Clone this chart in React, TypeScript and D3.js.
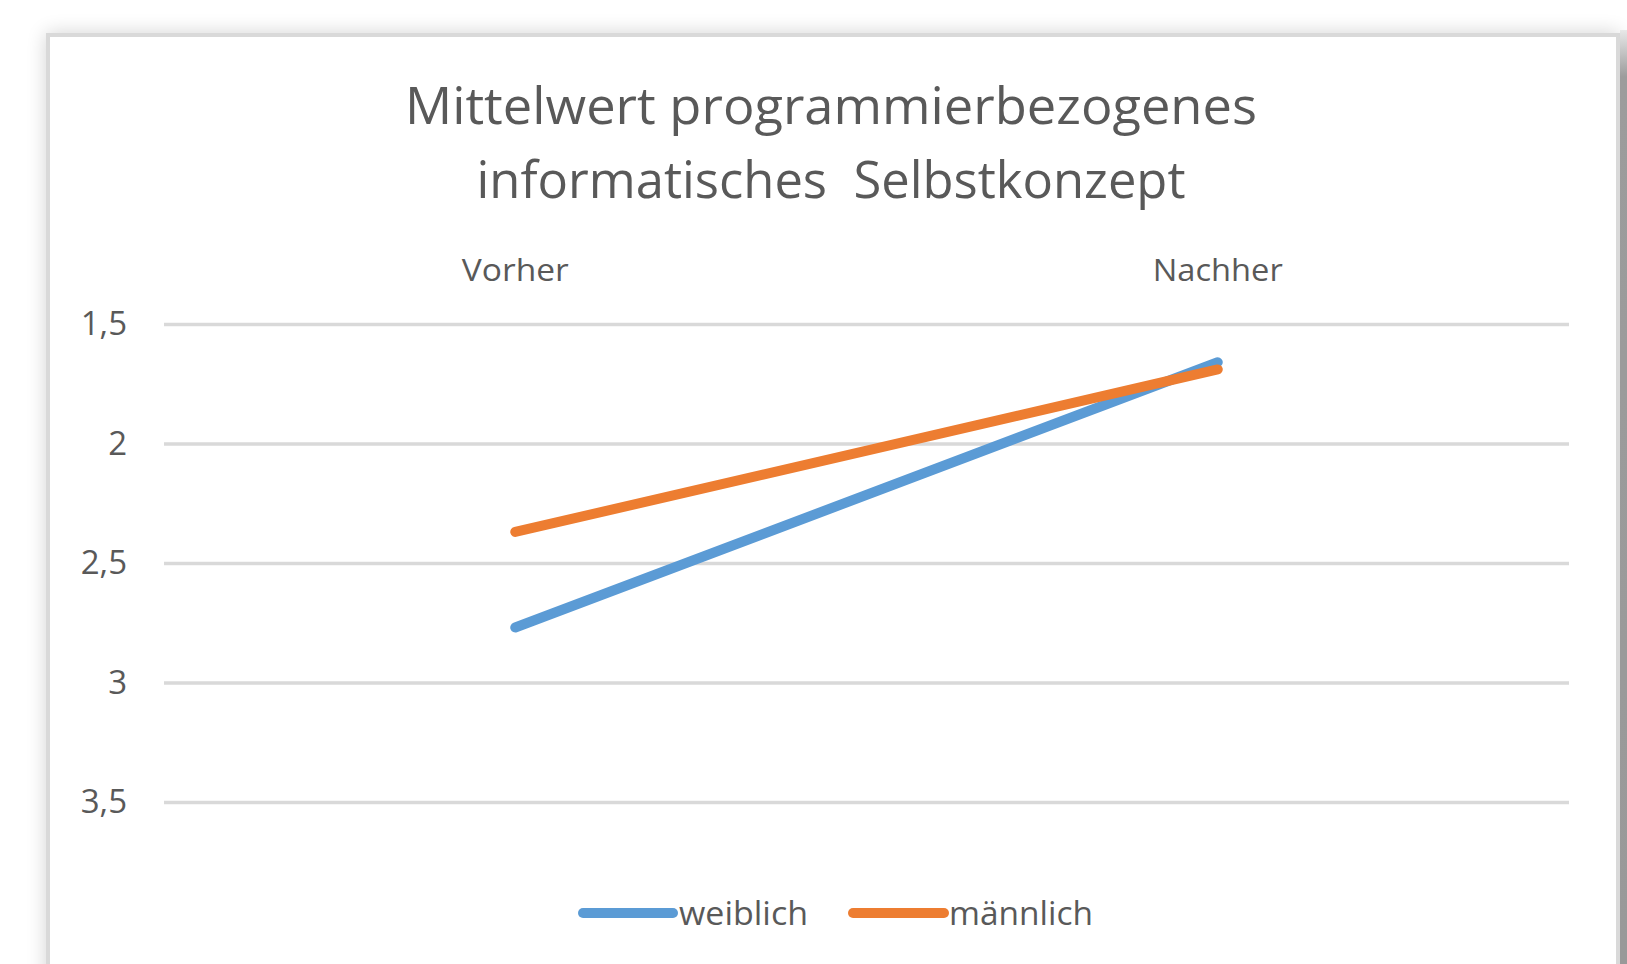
import { useEffect, useRef } from "react";
import * as d3 from "d3";

// Data
const categories = ["Vorher", "Nachher"];
const weiblich = [2.77, 1.66];
const maennlich = [2.37, 1.69];
const seriesNames = ["weiblich", "männlich"];
const seriesColors = ["#5B9BD5", "#ED7D31"];
const yTicks = [1.5, 2, 2.5, 3, 3.5];
const titleLines = ["Mittelwert programmierbezogenes", "informatisches  Selbstkonzept"];

const App = () => {
  const ref = useRef<SVGSVGElement | null>(null);

  useEffect(() => {
    if (!ref.current) return;
    document.body.style.margin = "0";

    const svg = d3.select(ref.current);
    svg.selectAll("*").remove();

    const width = 1627;
    const height = 964;
    const plot = { left: 164, right: 1569, top: 324, bottom: 802 };
    const font = "'Open Sans', 'Noto Sans', sans-serif";
    const textColor = "#595959";

    const defs = svg.append("defs");
    const f = defs
      .append("filter")
      .attr("id", "glow")
      .attr("x", "-5%")
      .attr("y", "-10%")
      .attr("width", "110%")
      .attr("height", "120%");
    f.append("feGaussianBlur").attr("in", "SourceAlpha").attr("stdDeviation", 10);
    f.append("feComponentTransfer")
      .append("feFuncA")
      .attr("type", "linear")
      .attr("slope", 0.18);
    const merge = f.append("feMerge");
    merge.append("feMergeNode");
    merge.append("feMergeNode").attr("in", "SourceGraphic");

    const grad = defs
      .append("linearGradient")
      .attr("id", "edge")
      .attr("x1", 0)
      .attr("y1", 0)
      .attr("x2", 0)
      .attr("y2", 1);
    grad.append("stop").attr("offset", "0%").attr("stop-color", "#e8e8e8");
    grad.append("stop").attr("offset", "5%").attr("stop-color", "#9c9c9c");
    grad.append("stop").attr("offset", "100%").attr("stop-color", "#999999");

    svg.append("rect").attr("width", width).attr("height", height).attr("fill", "#ffffff");

    // chart frame
    svg
      .append("rect")
      .attr("x", 48)
      .attr("y", 35)
      .attr("width", 1570)
      .attr("height", 1000)
      .attr("fill", "#ffffff")
      .attr("stroke", "#d9d9d9")
      .attr("stroke-width", 4)
      .attr("filter", "url(#glow)");
    svg
      .append("rect")
      .attr("x", 1620)
      .attr("y", 30)
      .attr("width", 7)
      .attr("height", height - 30)
      .attr("fill", "url(#edge)");

    // Scales
    const x = d3
      .scalePoint<string>()
      .domain(categories)
      .range([plot.left, plot.right])
      .padding(0.5);

    const y = d3
      .scaleLinear()
      .domain([1.5, 3.5])
      .range([plot.top, plot.bottom]);

    const fmt = d3.formatLocale({ decimal: ",", thousands: ".", grouping: [3], currency: ["", "€"] }).format("~g");

    // Y axis + grid
    svg
      .append("g")
      .attr("transform", `translate(${plot.left},0)`)
      .call(
        d3
          .axisLeft(y)
          .tickValues(yTicks)
          .tickSize(-(plot.right - plot.left))
          .tickPadding(37)
          .tickFormat((d) => fmt(d as number))
      )
      .call((g) => g.select(".domain").remove())
      .call((g) => g.selectAll(".tick line").attr("stroke", "#d9d9d9").attr("stroke-width", 3.5))
      .call((g) =>
        g
          .selectAll(".tick text")
          .attr("fill", textColor)
          .attr("dy", "0.33em")
          .style("font-family", font)
          .style("font-size", "33px")
      );

    // Category labels (top)
    const catWidths = [107, 130];
    svg
      .append("g")
      .selectAll("text")
      .data(categories)
      .join("text")
      .attr("x", (d) => x(d)!)
      .attr("y", 281)
      .attr("text-anchor", "middle")
      .attr("fill", textColor)
      .attr("textLength", (_, i) => catWidths[i])
      .attr("lengthAdjust", "spacingAndGlyphs")
      .style("font-family", font)
      .style("font-size", "31px")
      .text((d) => d);

    // Lines
    const line = d3
      .line<number>()
      .x((_, i) => x(categories[i])!)
      .y((d) => y(d));

    [weiblich, maennlich].forEach((vals, i) => {
      svg
        .append("path")
        .datum(vals)
        .attr("d", line)
        .attr("fill", "none")
        .attr("stroke", seriesColors[i])
        .attr("stroke-width", 10)
        .attr("stroke-linecap", "round");
    });

    // Title
    svg
      .append("g")
      .selectAll("text")
      .data(titleLines)
      .join("text")
      .attr("x", 831)
      .attr("y", (_, i) => 124 + i * 74)
      .attr("text-anchor", "middle")
      .attr("fill", textColor)
      .attr("textLength", (_, i) => (i === 0 ? 852 : 709))
      .attr("lengthAdjust", "spacingAndGlyphs")
      .style("font-family", font)
      .style("font-size", "52px")
      .style("white-space", "pre")
      .text((d) => d);

    // Legend
    const legendItems = [
      { x0: 583, x1: 673, tx: 679, tl: 129 },
      { x0: 853, x1: 944, tx: 949, tl: 144 },
    ];
    const lg = svg.append("g");
    seriesNames.forEach((name, i) => {
      const it = legendItems[i];
      lg.append("line")
        .attr("x1", it.x0)
        .attr("x2", it.x1)
        .attr("y1", 913)
        .attr("y2", 913)
        .attr("stroke", seriesColors[i])
        .attr("stroke-width", 10)
        .attr("stroke-linecap", "round");
      lg.append("text")
        .attr("x", it.tx)
        .attr("y", 925)
        .attr("fill", textColor)
        .attr("textLength", it.tl)
        .attr("lengthAdjust", "spacingAndGlyphs")
        .style("font-family", font)
        .style("font-size", "32px")
        .text(name);
    });
  }, []);

  return (
    <svg
      ref={ref}
      width={1627}
      height={964}
      style={{ display: "block", position: "absolute", left: 0, top: 0 }}
    />
  );
};

export default App;
